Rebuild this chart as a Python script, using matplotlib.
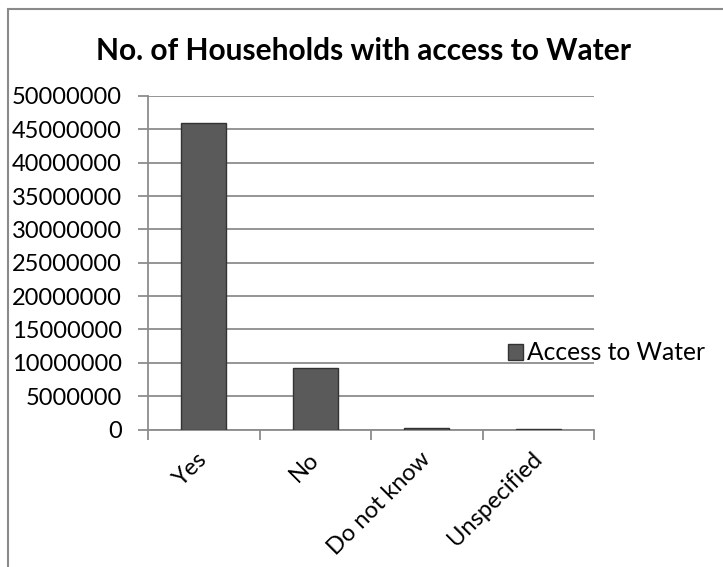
import matplotlib.pyplot as plt
from matplotlib.patches import Rectangle
import numpy as np

# Данные графика
categories = ['Yes', 'No', 'Do not know', 'Unspecified']
households = [46000000, 9150000, 250000, 20000]
series_name = 'Access to Water'
yticks = list(range(0, 50000001, 5000000))

plt.rcParams['font.family'] = ['Lato', 'DejaVu Sans']

W, H = 723, 567
fig = plt.figure(figsize=(W / 100, H / 100), dpi=100)
ax = fig.add_axes([148 / W, 1 - 429.5 / H, (594 - 148) / W, (429.5 - 96) / H])

# Рамка диаграммы (уходит за правый и нижний край)
fig.patches.append(Rectangle((8 / W, -0.1), 1.2, 1.1 - 9 / H,
                             transform=fig.transFigure, fill=False,
                             edgecolor='#8a8a8a', linewidth=1.5))

x = np.arange(len(categories))
ax.bar(x, households, width=0.4, color='#5a5a5a', edgecolor='#333333',
       linewidth=1.0, label=series_name, zorder=3)

ax.set_xlim(-0.5, len(categories) - 0.5)
ax.set_ylim(0, 50000000)
ax.set_yticks(yticks)
ax.set_yticklabels([str(v) for v in yticks], fontsize=17)
ax.yaxis.grid(True, color='#8c8c8c', linewidth=1.3, zorder=0)
ax.set_axisbelow(True)

# Деления по границам категорий
ax.set_xticks(np.arange(-0.5, len(categories), 1.0))
ax.set_xticklabels([])
ax.set_xticks(x, minor=True)
ax.set_xticklabels(categories, minor=True, rotation=45, ha='right',
                   va='center', rotation_mode='anchor', fontsize=17)
ax.tick_params(axis='x', which='minor', length=0, pad=19)
ax.tick_params(axis='x', which='major', length=7, width=1.3, color='#8c8c8c',
               direction='out')
ax.tick_params(axis='y', length=7, width=1.3, color='#8c8c8c', pad=12)

for side in ['top', 'right']:
    ax.spines[side].set_visible(False)
for side in ['left', 'bottom']:
    ax.spines[side].set_color('#8c8c8c')
    ax.spines[side].set_linewidth(1.3)

fig.text(363 / W, 1 - 51 / H, 'No. of Households with access to Water',
         ha='center', va='center', fontsize=21.5, fontweight='bold')

fig.legend(loc='center left', bbox_to_anchor=(496 / W, 1 - 353 / H),
           frameon=False, fontsize=17.7, handlelength=0.6, handleheight=0.6,
           handletextpad=0.15, borderpad=0)

fig.savefig('out.png', dpi=100)
